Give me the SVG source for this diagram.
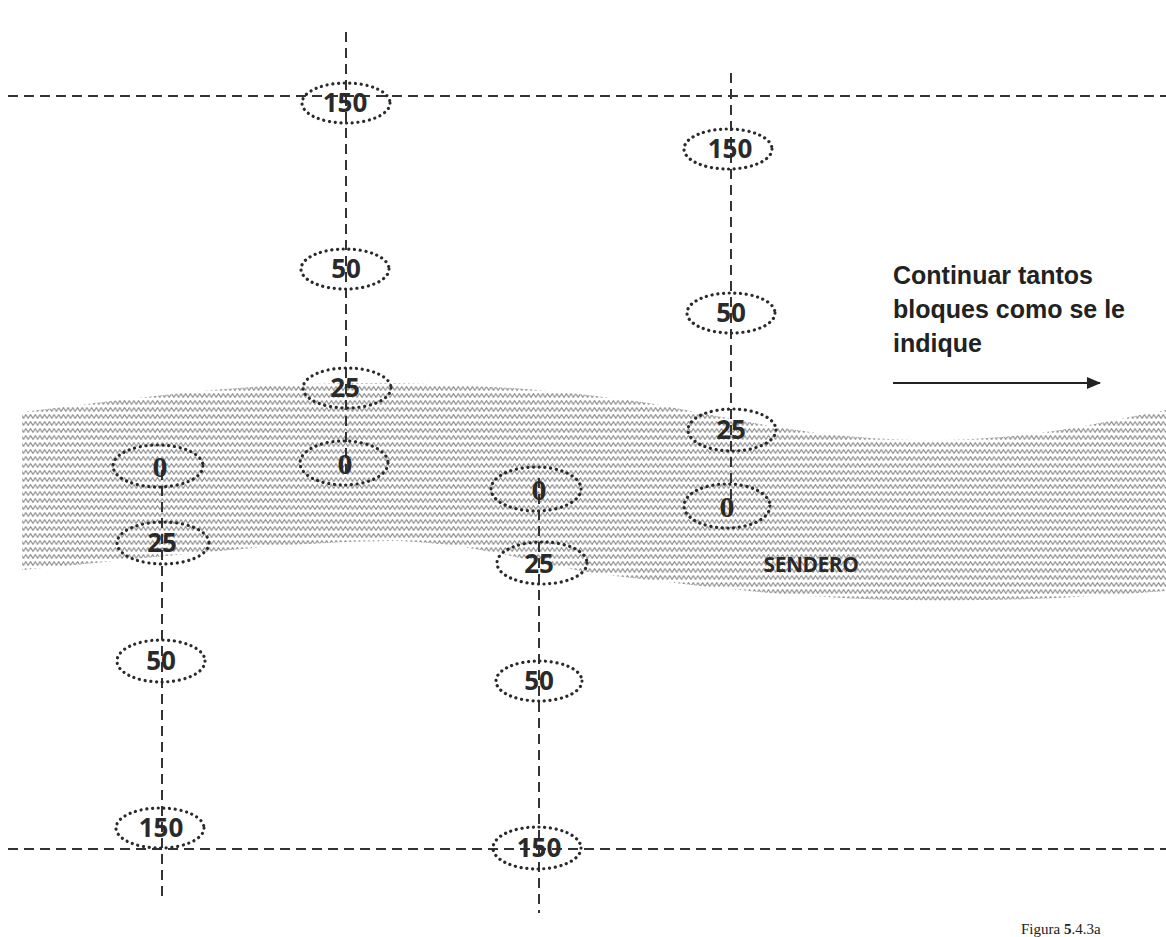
<svg xmlns="http://www.w3.org/2000/svg" width="1166" height="937" viewBox="0 0 1166 937">
<style>
.dl{stroke:#333;stroke-width:2;stroke-dasharray:10 6;fill:none}
.el{fill:none;stroke:#2a2a2a;stroke-width:3.2;stroke-dasharray:0.1 5.6;stroke-linecap:round}
.n{font-family:"Open Sans","Liberation Sans",sans-serif;font-size:26px;font-weight:bold;fill:#2a2a2a;text-anchor:middle}
.z{font-family:"Liberation Serif",serif;font-size:30px;font-weight:bold;fill:#2a2a2a;text-anchor:middle}
.t{font-family:"Liberation Sans",Arial,sans-serif;font-size:25px;font-weight:bold;fill:#222}
</style>
<defs>
<pattern id="wave" patternUnits="userSpaceOnUse" width="9.4" height="7">
<path d="M-2.35,3 L0,5.4 L2.35,1.6 L4.7,5.4 L7.05,1.6 L9.4,5.4 L11.75,1.6" fill="none" stroke="#959595" stroke-width="1.15" stroke-linejoin="round"/>
</pattern>
<marker id="ah" markerWidth="14" markerHeight="12" refX="13" refY="6" orient="auto" markerUnits="userSpaceOnUse">
<path d="M0,0 L14,6 L0,12 Z" fill="#222"/>
</marker>
</defs>
<rect width="1166" height="937" fill="#fff"/>
<g id="sendero">
<path d="M22,412 C120,400 230,384 350,383 C470,382 580,392 660,405 C740,420 820,440 930,440 C1040,440 1110,420 1166,410 L1166,591 C1090,597 1000,602 900,600 C790,598 690,585 600,574 C540,566 490,545 400,541 C300,540 150,558 22,570 Z" fill="url(#wave)"/>
<text x="811" y="572" font-family="Open Sans, Liberation Sans, sans-serif" font-size="21" font-weight="bold" fill="#2a2a2a" text-anchor="middle" letter-spacing="-0.5">SENDERO</text>
</g>
<g id="connectors">
<line class="dl" x1="8" y1="96" x2="1166" y2="96"/>
<line class="dl" x1="8" y1="849" x2="1166" y2="849"/>
<line class="dl" x1="162" y1="470" x2="162" y2="897"/>
<line class="dl" x1="346" y1="32" x2="346" y2="476"/>
<line class="dl" x1="539" y1="478" x2="539" y2="913"/>
<line class="dl" x1="731" y1="73" x2="731" y2="516"/>
<line x1="893" y1="383" x2="1100" y2="383" stroke="#222" stroke-width="2" marker-end="url(#ah)"/>
</g>
<g id="colA">
<g id="a0"><ellipse class="el" cx="158" cy="466" rx="45" ry="21"/><text class="z" x="160" y="477">0</text></g>
<g id="a25"><ellipse class="el" cx="163" cy="543" rx="46" ry="21"/><text class="n" x="162" y="552">25</text></g>
<g id="a50"><ellipse class="el" cx="161" cy="661" rx="44" ry="21"/><text class="n" x="161" y="670">50</text></g>
<g id="a150"><ellipse class="el" cx="160" cy="828" rx="44" ry="20"/><text class="n" x="161" y="837">150</text></g>
</g>
<g id="colB">
<g id="b150"><ellipse class="el" cx="346" cy="103" rx="44" ry="20"/><text class="n" x="345" y="112">150</text></g>
<g id="b50"><ellipse class="el" cx="345" cy="269" rx="44" ry="20"/><text class="n" x="346" y="278">50</text></g>
<g id="b25"><ellipse class="el" cx="347" cy="388" rx="44" ry="20"/><text class="n" x="345" y="397">25</text></g>
<g id="b0"><ellipse class="el" cx="344" cy="463" rx="44" ry="22"/><text class="z" x="345" y="474">0</text></g>
</g>
<g id="colC">
<g id="c0"><ellipse class="el" cx="536" cy="489" rx="45" ry="22"/><text class="z" x="539" y="500">0</text></g>
<g id="c25"><ellipse class="el" cx="542" cy="563" rx="45" ry="21"/><text class="n" x="539" y="573">25</text></g>
<g id="c50"><ellipse class="el" cx="539" cy="681" rx="43" ry="20"/><text class="n" x="539" y="690">50</text></g>
<g id="c150"><ellipse class="el" cx="537" cy="848" rx="44" ry="21"/><text class="n" x="539" y="857">150</text></g>
</g>
<g id="colD">
<g id="d150"><ellipse class="el" cx="728" cy="149" rx="44" ry="20"/><text class="n" x="730" y="158">150</text></g>
<g id="d50"><ellipse class="el" cx="731" cy="313" rx="44" ry="20"/><text class="n" x="731" y="322">50</text></g>
<g id="d25"><ellipse class="el" cx="732" cy="430" rx="44" ry="21"/><text class="n" x="731" y="439">25</text></g>
<g id="d0"><ellipse class="el" cx="727" cy="506" rx="43" ry="22"/><text class="z" x="727" y="517">0</text></g>
</g>
<g id="note">
<text class="t" x="893" y="284">Continuar tantos</text>
<text class="t" x="893" y="318">bloques como se le</text>
<text class="t" x="893" y="352">indique</text>
</g>
<g id="caption">
<text x="1021" y="934" font-family="Liberation Serif, serif" font-size="15" fill="#222">Figura <tspan font-weight="bold">5</tspan>.4.3a</text>
</g>
</svg>
